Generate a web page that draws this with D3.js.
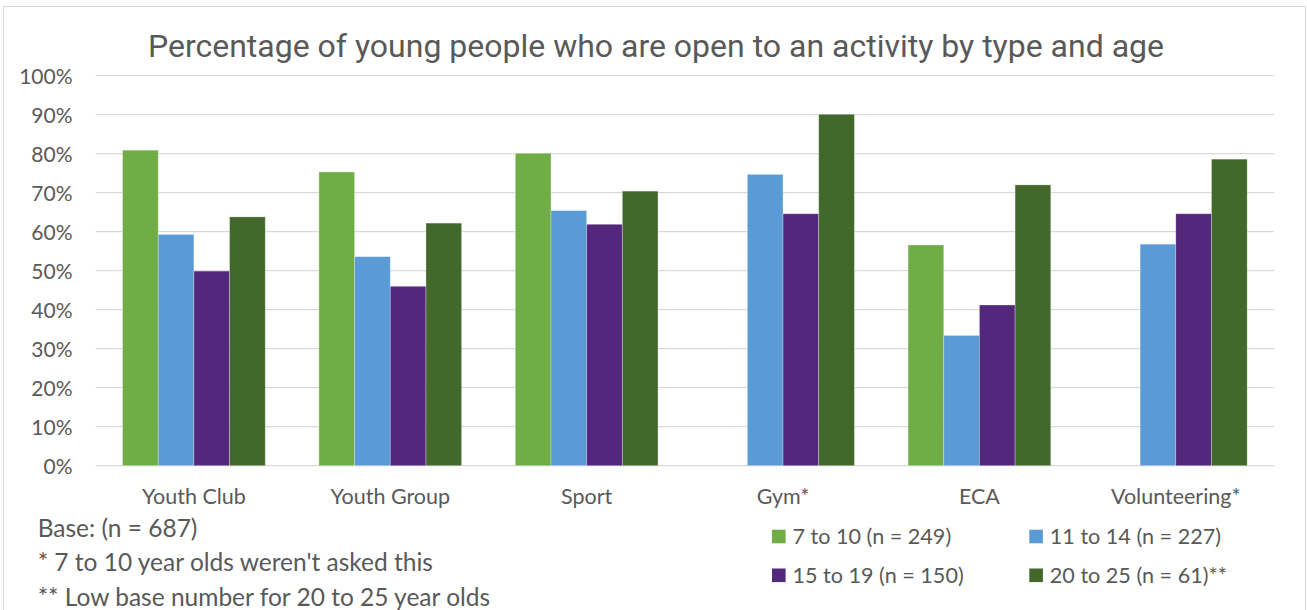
<!DOCTYPE html>
<html>
<head>
<meta charset="utf-8">
<script src="https://cdn.jsdelivr.net/npm/d3@7/dist/d3.min.js"></script>
<style>
  html, body { margin: 0; padding: 0; background: #fff; }
  svg { display: block; }
</style>
</head>
<body>
<svg id="chart" width="1307" height="610"></svg>
<script>
// Activity types (x categories)
const categories = ["Youth Club", "Youth Group", "Sport", "Gym*", "ECA", "Volunteering*"];

// Age bands (series) and their legend labels
const seriesNames = ["7 to 10 (n = 249)", "11 to 14 (n = 227)", "15 to 19 (n = 150)", "20 to 25 (n = 61)**"];

// Percentage open to each activity, per age band (null = not asked)
const age7to10   = [80.9, 75.3, 80.1, null, 56.6, null];
const age11to14  = [59.3, 53.6, 65.4, 74.7, 33.4, 56.8];
const age15to19  = [49.9, 46.0, 61.9, 64.6, 41.2, 64.6];
const age20to25  = [63.8, 62.2, 70.4, 90.1, 72.0, 78.6];

const yTicks = [0, 10, 20, 30, 40, 50, 60, 70, 80, 90, 100];

const footnotes = [
  "Base: (n = 687)",
  "* 7 to 10 year olds weren't asked this",
  "** Low base number for 20 to 25 year olds"
];

const titleText = "Percentage of young people who are open to an activity by type and age";

const seriesValues = [age7to10, age11to14, age15to19, age20to25];
const colors = ["#70AD47", "#5B9BD5", "#52277C", "#43682B"];

const svg = d3.select("#chart");
const labelFont = "Lato, 'Open Sans', sans-serif";
const textColor = "#595959";

// chart frame
svg.append("rect")
  .attr("x", 3.5).attr("y", 6.5)
  .attr("width", 1302).attr("height", 640)
  .attr("fill", "none").attr("stroke", "#D9D9D9").attr("stroke-width", 1);

const plot = { left: 95.7, right: 1274, top: 75.7, bottom: 465.7 };

const x0 = d3.scaleBand()
  .domain(categories)
  .range([plot.left, plot.right])
  .paddingInner(0.2734)
  .paddingOuter(0.1367);

const x1 = d3.scaleBand()
  .domain(d3.range(seriesNames.length))
  .range([0, x0.bandwidth()]);

const y = d3.scaleLinear().domain([0, 100]).range([plot.bottom, plot.top]);

// gridlines
svg.append("g")
  .selectAll("line")
  .data(yTicks)
  .join("line")
  .attr("x1", plot.left).attr("x2", plot.right)
  .attr("y1", d => y(d)).attr("y2", d => y(d))
  .attr("stroke", "#D9D9D9").attr("stroke-width", 1.3);

// y axis labels
const yAxis = d3.axisLeft(y).tickValues(yTicks).tickFormat(d => d + "%").tickSize(0).tickPadding(0);
const yg = svg.append("g").attr("transform", `translate(72.5,0)`).call(yAxis);
yg.select(".domain").remove();
yg.selectAll("text")
  .attr("font-family", labelFont).attr("font-size", 21)
  .attr("fill", textColor).attr("dy", "0.35em");

// bars
const groups = svg.append("g")
  .selectAll("g")
  .data(categories.map((c, i) => ({ cat: c, vals: seriesValues.map(s => s[i]) })))
  .join("g")
  .attr("transform", d => `translate(${x0(d.cat)},0)`);

groups.selectAll("rect")
  .data(d => d.vals.map((v, k) => ({ v, k })).filter(e => e.v != null))
  .join("rect")
  .attr("x", e => x1(e.k))
  .attr("width", x1.bandwidth())
  .attr("y", e => y(e.v))
  .attr("height", e => y(0) - y(e.v))
  .attr("fill", e => colors[e.k])
  .attr("stroke", "rgba(255,255,255,0.35)")
  .attr("stroke-width", 0.8);

// x axis labels
const xAxis = d3.axisBottom(x0).tickSize(0).tickPadding(0);
const xg = svg.append("g").attr("transform", `translate(0,504)`).call(xAxis);
xg.select(".domain").remove();
xg.selectAll("text")
  .attr("font-family", labelFont).attr("font-size", 21.5)
  .attr("fill", textColor).attr("dy", 0).attr("y", 0);

// title
svg.append("text")
  .attr("x", 656).attr("y", 57)
  .attr("text-anchor", "middle")
  .attr("font-family", "Roboto, sans-serif")
  .attr("font-size", 32)
  .attr("fill", textColor)
  .text(titleText);

// footnotes
svg.append("g")
  .selectAll("text")
  .data(footnotes)
  .join("text")
  .attr("x", 37.7)
  .attr("y", (d, i) => 528 + i * 34.5)
  .attr("dy", "0.35em")
  .attr("font-family", labelFont).attr("font-size", 24.5)
  .attr("fill", textColor)
  .text(d => d);

// legend
const legendPos = [[772, 536.5], [1029.3, 536.5], [772, 575.3], [1029.3, 575.3]];
const legend = svg.append("g")
  .selectAll("g")
  .data(seriesNames)
  .join("g")
  .attr("transform", (d, i) => `translate(${legendPos[i][0]},${legendPos[i][1]})`);
legend.append("rect")
  .attr("x", 0).attr("y", -6.8)
  .attr("width", 13.6).attr("height", 13.6)
  .attr("fill", (d, i) => colors[i]);
legend.append("text")
  .attr("x", 20.5).attr("dy", "0.35em")
  .attr("font-family", labelFont).attr("font-size", 21.6)
  .attr("fill", textColor)
  .text(d => d);
</script>
</body>
</html>
